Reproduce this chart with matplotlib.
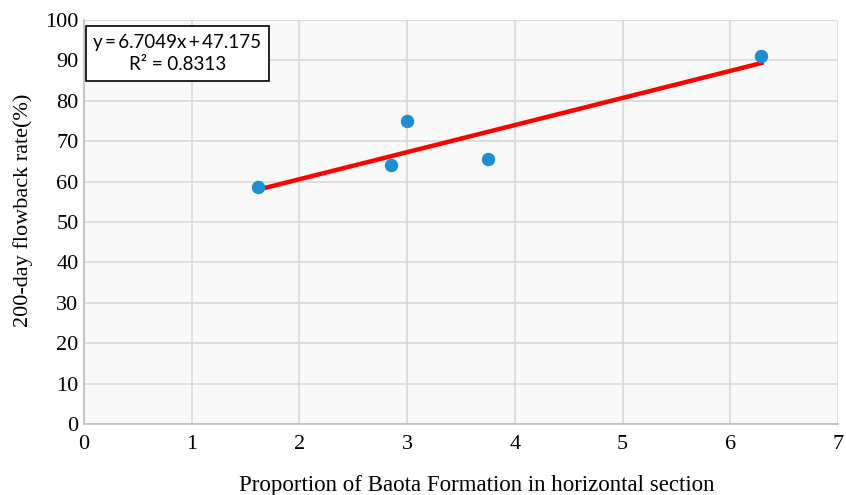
import numpy as np
import matplotlib.pyplot as plt

# measured wells: share of Baota Formation vs 200-day flowback rate
baota_share = [1.62, 2.85, 3.00, 3.75, 6.29]
flowback = [58.7, 64.0, 75.0, 65.6, 91.1]

slope = 6.7049
intercept = 47.175
r2 = 0.8313

fig = plt.figure(figsize=(8.46, 4.95), dpi=100)
ax = fig.add_axes([0.0993, 0.1434, 0.8912, 0.8162])
ax.set_facecolor('#f9f9f9')

ax.grid(True, color='#d9d9d9', linewidth=1.2)
ax.set_axisbelow(True)

# linear trend over the range of the data
xs = np.array([min(baota_share), max(baota_share)])
ax.plot(xs, slope * xs + intercept, color='#ff0000', linewidth=3.2, zorder=2)
ax.scatter(baota_share, flowback, s=75, color='#1b8fd2', zorder=3)

ax.set_xlim(0, 7)
ax.set_ylim(0, 100)
ax.set_xticks(range(0, 8))
ax.set_yticks(range(0, 101, 10))

for side in ['top', 'right']:
    ax.spines[side].set_visible(False)
for side in ['left', 'bottom']:
    ax.spines[side].set_color('#bfbfbf')
    ax.spines[side].set_linewidth(1.2)
ax.tick_params(axis='y', length=0, pad=4, labelsize=16)
ax.tick_params(axis='x', length=0, pad=8, labelsize=16)
for lab in ax.get_xticklabels() + ax.get_yticklabels():
    lab.set_family('Liberation Serif')

fig.text(0.564, 0.02, 'Proportion of Baota Formation in horizontal section',
         family='Liberation Serif', fontsize=16.5, ha='center', va='center')
fig.text(0.027, 0.576, '200-day flowback rate(%)', family='Liberation Serif',
         fontsize=16, ha='center', va='center', rotation=90)

eq = 'y\u2009=\u2009%.4fx\u2009+\u2009%.3f\nR² = %.4f' % (slope, intercept, r2)
ax.text(0.124, 0.917, eq,
        transform=ax.transAxes, ha='center', va='center', fontsize=13.5,
        family=['Lato', 'DejaVu Sans'], linespacing=1.4,
        bbox=dict(boxstyle='square,pad=0.4', facecolor='white',
                  edgecolor='black', linewidth=1.2))

fig.savefig('out.png', dpi=100)
